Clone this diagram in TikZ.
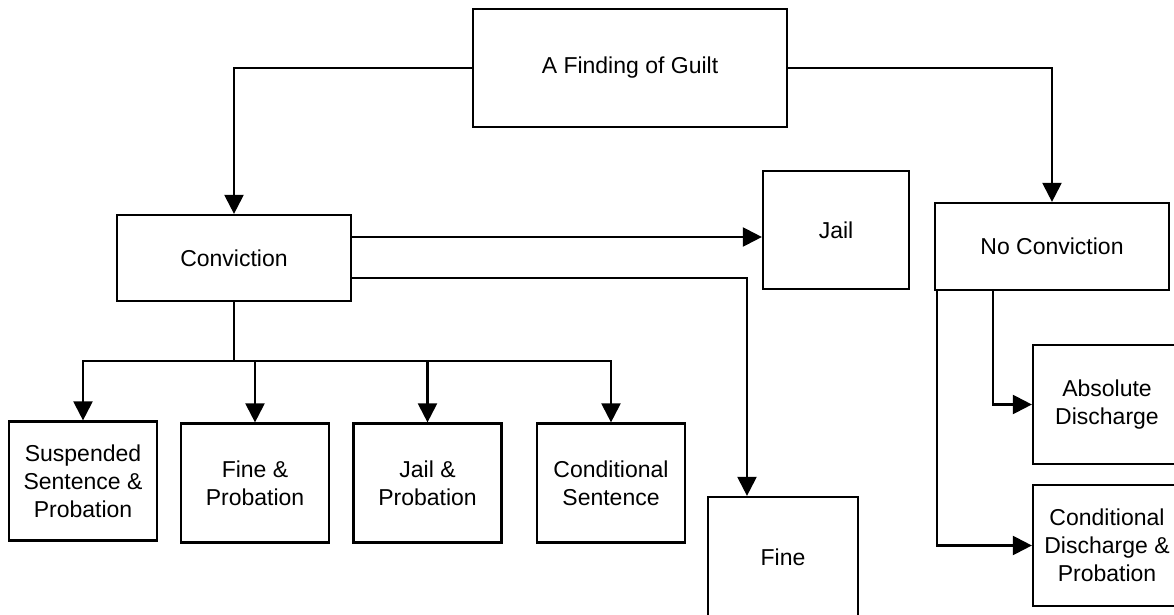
\documentclass[tikz,border=0pt]{standalone}
\usepackage{fontspec}
\setmainfont{Liberation Sans}
\usetikzlibrary{arrows.meta}
\begin{document}
\begin{tikzpicture}[x=0.5pt,y=-0.5pt,
  box/.style={draw, line width=1.1pt, rectangle, inner sep=0pt, align=center,
    font=\fontsize{11.5pt}{14pt}\selectfont},
  smallbox/.style={box, minimum width=74pt, minimum height=59.5pt},
  conn/.style={line width=1.1pt},
  arr/.style={conn, -{Triangle[length=9.5pt, width=9.5pt]}}]
\useasboundingbox (0,0) rectangle (1174,615);
% boxes
\node[box, minimum width=157pt, minimum height=59pt] (guilt) at (630,68) {A Finding of Guilt};
\node[box, minimum width=117pt, minimum height=43pt] (conv) at (234,258) {Conviction};
\node[box, minimum width=73pt, minimum height=59pt] (jail) at (836,230) {Jail};
\node[box, minimum width=117pt, minimum height=43.5pt] (nc) at (1052,246.5) {No Conviction};
\node[smallbox] (susp) at (83,481) {Suspended\\Sentence \&\\Probation};
\node[smallbox] (finep) at (255,483) {Fine \&\\Probation};
\node[smallbox] (jailp) at (427.5,483) {Jail \&\\Probation};
\node[smallbox] (cond) at (611,483) {Conditional\\Sentence};
\node[box, minimum width=75pt, minimum height=60pt] (fine) at (783,557) {Fine};
\node[smallbox] (abs) at (1107,404.5) {Absolute\\Discharge};
\node[smallbox, minimum height=60.5pt] (cdp) at (1107,545.5) {Conditional\\Discharge \&\\Probation};
% helper coordinates
\coordinate (c1) at (351,237);
\coordinate (c2) at (747,278);
\coordinate (b) at (234,361);
\coordinate (n1) at (993,290);
\coordinate (n2) at (937,290);
% connectors
\draw[arr] (guilt.west) -| (conv.north);
\draw[arr] (guilt.east) -| (nc.north);
\draw[arr] (conv.east |- c1) -- (jail.west |- c1);
\draw[arr] (conv.east |- c2) -- (c2) -- (c2 |- fine.north);
\draw[arr] (conv.south) -- (b) -| (susp.north);
\draw[arr] (b) -| (finep.north);
\draw[arr] (b) -| (jailp.north);
\draw[arr] (b) -| (cond.north);
\draw[arr] (n1 |- nc.south) |- (abs.west);
\draw[arr] (n2 |- nc.south) |- (cdp.west);
\end{tikzpicture}
\end{document}
